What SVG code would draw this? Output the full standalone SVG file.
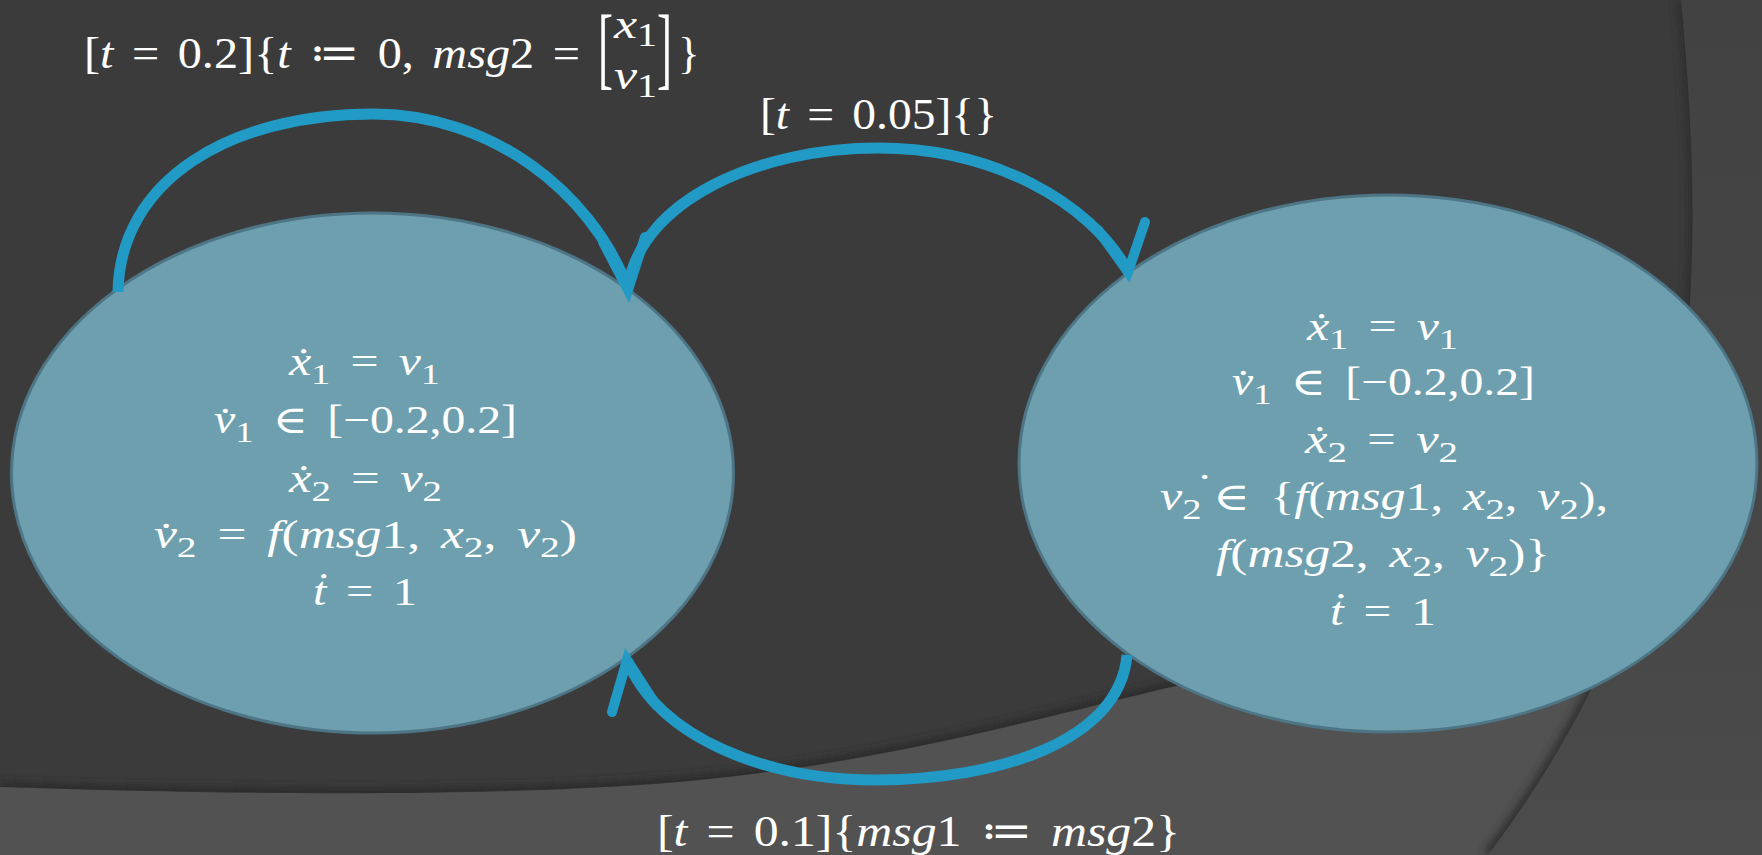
<svg xmlns="http://www.w3.org/2000/svg" width="1762" height="855" viewBox="0 0 1762 855">
<style>
.t{font-family:'Liberation Serif','DejaVu Serif',serif;fill:#ffffff;font-size:39px;word-spacing:6px}
.l{font-size:45px}
.i{font-style:italic}
.sb{font-size:30px}
.sl{font-size:33px}
.node{fill:#6d9fae;stroke:#4d7585;stroke-width:3}
.c{fill:none;stroke:#219ac5;stroke-width:11}
.ah{fill:none;stroke:#219ac5;stroke-width:10;stroke-linecap:round;stroke-linejoin:miter}
</style>
<defs>
<linearGradient id="pg" x1="0" y1="0" x2="0" y2="1">
<stop offset="0" stop-color="#424242"/>
<stop offset="0.5" stop-color="#454545"/>
<stop offset="1" stop-color="#4b4b4b"/>
</linearGradient>
<filter id="blur" x="-0.1" y="-0.1" width="1.2" height="1.2"><feGaussianBlur stdDeviation="4"/></filter>
</defs>
<g id="background">
<rect x="0" y="0" width="1762" height="855" fill="#3b3b3b"/>
<path d="M0,787 C300,797 550,795 700,780 C900,760 1050,715 1180,685 L1700,540" fill="none" stroke="#2c2c2c" stroke-width="10" filter="url(#blur)"/>
<path d="M0,787 C300,797 550,795 700,780 C900,760 1050,715 1180,685 L1700,540 L1762,540 L1762,855 L0,855 Z" fill="#525252"/>
<path d="M1681,0 C1715,350 1680,600 1488,855" fill="none" stroke="#2e2e2e" stroke-width="10" filter="url(#blur)"/>
<path d="M1681,0 C1715,350 1680,600 1488,855 L1762,855 L1762,0 Z" fill="url(#pg)"/>
</g>
<g id="node-left">
<ellipse class="node" cx="372.5" cy="473" rx="361" ry="260"/>
<text class="t" x="289" y="375" textLength="151" lengthAdjust="spacingAndGlyphs"><tspan class="i">x&#x307;</tspan><tspan class="sb" dy="9">1</tspan><tspan dy="-9"> = </tspan><tspan class="i">v</tspan><tspan class="sb" dy="9">1</tspan></text>
<text class="t" x="214" y="433" textLength="303" lengthAdjust="spacingAndGlyphs"><tspan class="i">v&#x307;</tspan><tspan class="sb" dy="9">1</tspan><tspan dy="-9"> ∈ [−0.2,0.2]</tspan></text>
<text class="t" x="289" y="492" textLength="153" lengthAdjust="spacingAndGlyphs"><tspan class="i">x&#x307;</tspan><tspan class="sb" dy="9">2</tspan><tspan dy="-9"> = </tspan><tspan class="i">v</tspan><tspan class="sb" dy="9">2</tspan></text>
<text class="t" x="154" y="548" textLength="423" lengthAdjust="spacingAndGlyphs"><tspan class="i">v&#x307;</tspan><tspan class="sb" dy="9">2</tspan><tspan dy="-9"> = </tspan><tspan class="i">f</tspan>(<tspan class="i">msg</tspan>1,<tspan class="i"> x</tspan><tspan class="sb" dy="9">2</tspan><tspan dy="-9">,</tspan><tspan class="i"> v</tspan><tspan class="sb" dy="9">2</tspan><tspan dy="-9">)</tspan></text>
<text class="t" x="313" y="605" textLength="104" lengthAdjust="spacingAndGlyphs"><tspan class="i">t&#x307;</tspan> = 1</text>
</g>
<g id="node-right">
<ellipse class="node" cx="1388" cy="463.5" rx="369" ry="268.5"/>
<text class="t" x="1307" y="340" textLength="151" lengthAdjust="spacingAndGlyphs"><tspan class="i">x&#x307;</tspan><tspan class="sb" dy="9">1</tspan><tspan dy="-9"> = </tspan><tspan class="i">v</tspan><tspan class="sb" dy="9">1</tspan></text>
<text class="t" x="1232" y="395" textLength="303" lengthAdjust="spacingAndGlyphs"><tspan class="i">v&#x307;</tspan><tspan class="sb" dy="9">1</tspan><tspan dy="-9"> ∈ [−0.2,0.2]</tspan></text>
<text class="t" x="1305" y="453" textLength="153" lengthAdjust="spacingAndGlyphs"><tspan class="i">x&#x307;</tspan><tspan class="sb" dy="9">2</tspan><tspan dy="-9"> = </tspan><tspan class="i">v</tspan><tspan class="sb" dy="9">2</tspan></text>
<text class="t" x="1160" y="510" textLength="448" lengthAdjust="spacingAndGlyphs"><tspan class="i">v</tspan><tspan class="sb" dy="9">2</tspan><tspan dy="-18" dx="-4">˙</tspan><tspan dy="9">∈ {</tspan><tspan class="i">f</tspan>(<tspan class="i">msg</tspan>1,<tspan class="i"> x</tspan><tspan class="sb" dy="9">2</tspan><tspan dy="-9">,</tspan><tspan class="i"> v</tspan><tspan class="sb" dy="9">2</tspan><tspan dy="-9">),</tspan></text>
<text class="t" x="1216" y="567" textLength="334" lengthAdjust="spacingAndGlyphs"><tspan class="i">f</tspan>(<tspan class="i">msg</tspan>2,<tspan class="i"> x</tspan><tspan class="sb" dy="9">2</tspan><tspan dy="-9">,</tspan><tspan class="i"> v</tspan><tspan class="sb" dy="9">2</tspan><tspan dy="-9">)}</tspan></text>
<text class="t" x="1330" y="625" textLength="106" lengthAdjust="spacingAndGlyphs"><tspan class="i">t&#x307;</tspan> = 1</text>
</g>
<g id="connectors">
<path class="c" d="M118,292 C120,180 230,114 373,114 C490,114 590,190 628,288"/>
<path class="ah" d="M603,242 L628,290 L645,237"/>
<path class="c" d="M628,288 C640,200 760,148 878,148 C990,148 1090,200 1129,273"/>
<path class="ah" d="M1098,230 L1128,272 L1145,222"/>
<path class="c" d="M1127,655 C1120,740 1000,780 876,780 C770,780 660,740 627,660"/>
<path class="ah" d="M612,712 L627,660 L656,705"/>
</g>
<g id="labels">
<text class="t l" x="84" y="68" textLength="496" lengthAdjust="spacingAndGlyphs">[<tspan class="i">t</tspan> = 0.2]{<tspan class="i">t</tspan> ≔ 0,<tspan class="i"> msg</tspan>2 =</text>
<text class="t l" transform="translate(598,0) scale(1,2.0)" x="0" y="39">[</text>
<text class="t l" style="font-size:43px" x="614" y="38" textLength="43" lengthAdjust="spacingAndGlyphs"><tspan class="i">x</tspan><tspan class="sl" dy="8">1</tspan></text>
<text class="t l" style="font-size:43px" x="614" y="89" textLength="43" lengthAdjust="spacingAndGlyphs"><tspan class="i">v</tspan><tspan class="sl" dy="8">1</tspan></text>
<text class="t l" transform="translate(657,0) scale(1,2.0)" x="0" y="39">]</text>
<text class="t l" x="678" y="68">}</text>
<text class="t l" x="760" y="129" textLength="237" lengthAdjust="spacingAndGlyphs">[<tspan class="i">t</tspan> = 0.05]{}</text>
<text class="t l" x="657" y="846" textLength="523" lengthAdjust="spacingAndGlyphs">[<tspan class="i">t</tspan> = 0.1]{<tspan class="i">msg</tspan>1 ≔ <tspan class="i">msg</tspan>2}</text>
</g>
</svg>
